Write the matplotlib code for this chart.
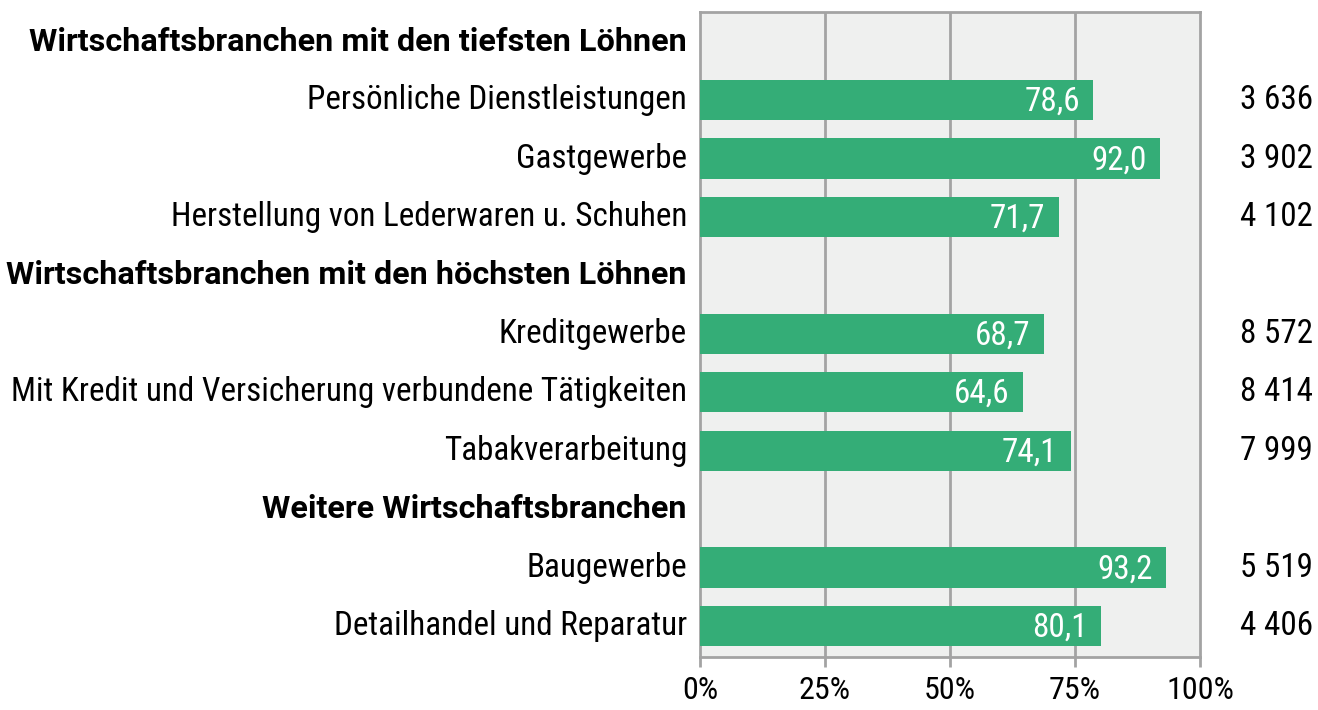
import matplotlib
matplotlib.use("Agg")
import matplotlib.pyplot as plt
from matplotlib import font_manager

labels = ["Wirtschaftsbranchen mit den tiefsten Löhnen",
          "Persönliche Dienstleistungen",
          "Gastgewerbe",
          "Herstellung von Lederwaren u. Schuhen",
          "Wirtschaftsbranchen mit den höchsten Löhnen",
          "Kreditgewerbe",
          "Mit Kredit und Versicherung verbundene Tätigkeiten",
          "Tabakverarbeitung",
          "Weitere Wirtschaftsbranchen",
          "Baugewerbe",
          "Detailhandel und Reparatur"]
is_header = [True, False, False, False, True, False, False, False, True, False, False]
values = [None, 78.6, 92.0, 71.7, None, 68.7, 64.6, 74.1, None, 93.2, 80.1]
wages = [None, "3 636", "3 902", "4 102", None, "8 572", "8 414", "7 999", None, "5 519", "4 406"]
xticks = [0, 25, 50, 75, 100]
xticklabels = ["0%", "25%", "50%", "75%", "100%"]

fonts = font_manager.fontManager.ttflist
names = {f.name for f in fonts}
fam = "DejaVu Sans"
for cand in ["Roboto Condensed", "Liberation Sans Narrow", "Open Sans Condensed"]:
    if cand in names:
        fam = cand
        break
bold_fam = "Roboto" if "Roboto" in names else fam
plt.rcParams['font.family'] = [fam, 'DejaVu Sans']

fig = plt.figure(figsize=(13.18, 7.10), dpi=100)
W, H = 1318, 710
left, right, top, bottom = 700, 1200, 12, 657
ax = fig.add_axes([left / W, 1 - bottom / H, (right - left) / W, (bottom - top) / H])

renderer = fig.canvas.get_renderer()
probe = fig.text(0, 0, labels[6], fontsize=20)
w = probe.get_window_extent(renderer).width
probe.remove()
fs = min(26, 20 * 676 / w)

probe = fig.text(0, 0, labels[4], fontsize=20, fontweight="bold", family=[bold_fam, 'DejaVu Sans'])
wb = probe.get_window_extent(renderer).width
probe.remove()
fsb = min(fs * 1.05, 20 * 678 / wb)

bar_color = "#34AD77"
grid_color = "#A3A3A3"
ax.set_facecolor("#EFF0EF")

n = len(labels)
ax.set_ylim(n - 1 + 0.53, -0.51)
ax.set_xlim(0, 100)

for i, v in enumerate(values):
    if v is None:
        continue
    ax.barh(i, v, height=0.69, color=bar_color, zorder=3)
    ax.text(v - 2.6, i + 0.03, f"{v:.1f}".replace(".", ","), ha="right", va="center",
            color="white", fontsize=fs, zorder=4)

for x in xticks[1:-1]:
    ax.axvline(x, color=grid_color, lw=2, zorder=1)

for s in ax.spines.values():
    s.set_color(grid_color)
    s.set_linewidth(2)

ax.set_yticks([])
ax.set_xticks(xticks)
ax.set_xticklabels(xticklabels, fontsize=fs * 0.97)
ax.tick_params(axis="x", length=7, width=2, color=grid_color, pad=7)

trans_lab = ax.get_yaxis_transform()
for i, lab in enumerate(labels):
    if is_header[i]:
        ax.text(-0.026, i, lab, transform=trans_lab, ha="right", va="center",
                fontsize=fsb, fontweight="bold", family=[bold_fam, 'DejaVu Sans'], color="black")
    else:
        ax.text(-0.026, i, lab, transform=trans_lab, ha="right", va="center",
                fontsize=fs, color="black")
    if wages[i] is not None:
        ax.text(1.226, i, wages[i], transform=trans_lab, ha="right", va="center",
                fontsize=fs, color="black")

fig.savefig("out.png", dpi=100)
